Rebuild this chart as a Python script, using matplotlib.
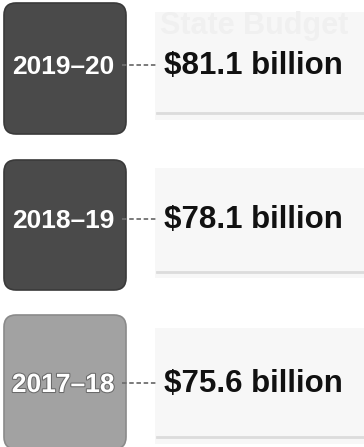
import matplotlib.pyplot as plt
from matplotlib.patches import FancyBboxPatch, Rectangle
import matplotlib.patheffects as pe

# Budget totals by financial year
years = ["2019–20", "2018–19", "2017–18"]
totals = [81.1, 78.1, 75.6]
box_colors = ["#4a4a4a", "#4a4a4a", "#a2a2a2"]
edge_colors = ["#3a3a3a", "#3a3a3a", "#8a8a8a"]

plt.rcParams['font.family'] = ['Liberation Sans', 'DejaVu Sans']

fig = plt.figure(figsize=(3.64, 4.47), dpi=100)
ax = fig.add_axes([0, 0, 1, 1])
ax.set_xlim(0, 364)
ax.set_ylim(447, 0)
ax.axis("off")

box_top = [3, 160, 315]
box_h = [131, 130, 134]
panel_top = [12, 168, 328]
panel_h = [108, 110, 116]
rule_y = [113, 272, 437]
text_y = [66, 220, 384]

for i, (yr, val) in enumerate(zip(years, totals)):
    # faint background panel behind the value
    ax.add_patch(Rectangle((155, panel_top[i]), 215, panel_h[i],
                           facecolor="#f7f7f7", edgecolor="none", zorder=0))
    ax.plot([157, 364], [rule_y[i], rule_y[i]], color="#dcdcdc", lw=2, zorder=1)

    # rounded year box
    ax.add_patch(FancyBboxPatch((4 + 12, box_top[i] + 12), 122 - 24, box_h[i] - 24,
                                boxstyle="round,pad=12", facecolor=box_colors[i],
                                edgecolor=edge_colors[i], lw=1.2, zorder=2))
    lbl = ax.text(63, text_y[i] + 1, yr, color="white", fontsize=19, fontweight="bold",
                  ha="center", va="center", zorder=3)
    if i == 2:
        lbl.set_path_effects([pe.withStroke(linewidth=1.5, foreground="#6a6a6a")])

    # dashed connector and value
    ax.plot([122, 158], [text_y[i] - 1, text_y[i] - 1], color="#707070", lw=1.3,
            ls=(0, (2.5, 1.5)), zorder=3)
    ax.text(164, text_y[i], f"${val} billion", color="#111111", fontsize=22.5,
            fontweight="bold", ha="left", va="center", zorder=3)

ax.text(160, 26, "State Budget", color="#f0f0f0", fontsize=22, fontweight="bold",
        ha="left", va="center", zorder=1)

fig.savefig("out.png", dpi=100)
